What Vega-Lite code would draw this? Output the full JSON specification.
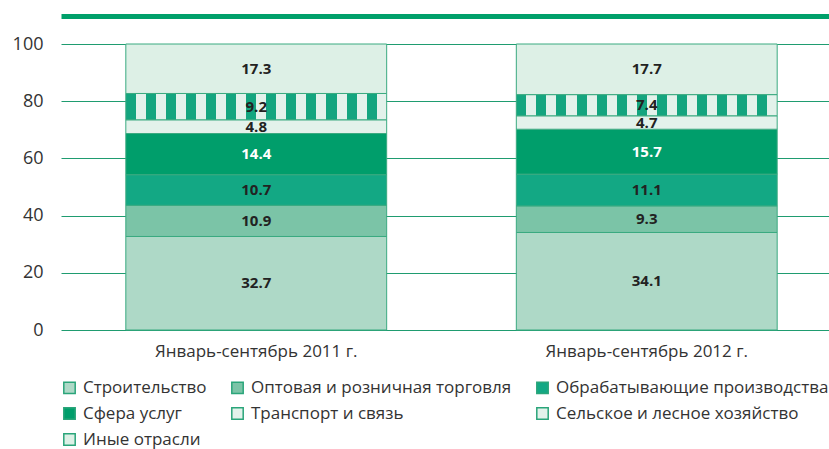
{
  "$schema": "https://vega.github.io/schema/vega-lite/v6.json",
  "width": 781,
  "height": 286,
  "autosize": {"type": "pad"},
  "padding": {"left": 12, "top": 16, "right": 0, "bottom": 0},
  "background": "white",
  "config": {
    "font": "Open Sans",
    "view": {"stroke": null},
    "axisY": {
      "grid": true, "gridColor": "#1f9c70", "gridWidth": 1, "domain": false, "ticks": false,
      "labelPadding": 18, "labelFontSize": 18, "labelColor": "#333333", "title": null
    },
    "legend": {
      "orient": "bottom", "columns": 3, "symbolType": "square", "symbolSize": 130,
      "symbolStrokeColor": "#2aa57a", "symbolStrokeWidth": 1.5, "labelFontSize": 17,
      "labelColor": "#333333", "rowPadding": 7, "columnPadding": 21, "offset": 20,
      "labelOffset": 5, "title": null, "labelLimit": 400
    }
  },
  "data": {
    "values": [
      {"period": "Январь-сентябрь 2011 г.", "sector": "Строительство", "value": 32.7, "order": 1},
      {"period": "Январь-сентябрь 2011 г.", "sector": "Оптовая и розничная торговля", "value": 10.9, "order": 2},
      {"period": "Январь-сентябрь 2011 г.", "sector": "Обрабатывающие производства", "value": 10.7, "order": 3},
      {"period": "Январь-сентябрь 2011 г.", "sector": "Сфера услуг", "value": 14.4, "order": 4},
      {"period": "Январь-сентябрь 2011 г.", "sector": "Транспорт и связь", "value": 4.8, "order": 5},
      {"period": "Январь-сентябрь 2011 г.", "sector": "Сельское и лесное хозяйство", "value": 9.2, "order": 6},
      {"period": "Январь-сентябрь 2011 г.", "sector": "Иные отрасли", "value": 17.3, "order": 7},
      {"period": "Январь-сентябрь 2012 г.", "sector": "Строительство", "value": 34.1, "order": 1},
      {"period": "Январь-сентябрь 2012 г.", "sector": "Оптовая и розничная торговля", "value": 9.3, "order": 2},
      {"period": "Январь-сентябрь 2012 г.", "sector": "Обрабатывающие производства", "value": 11.1, "order": 3},
      {"period": "Январь-сентябрь 2012 г.", "sector": "Сфера услуг", "value": 15.7, "order": 4},
      {"period": "Январь-сентябрь 2012 г.", "sector": "Транспорт и связь", "value": 4.7, "order": 5},
      {"period": "Январь-сентябрь 2012 г.", "sector": "Сельское и лесное хозяйство", "value": 7.4, "order": 6},
      {"period": "Январь-сентябрь 2012 г.", "sector": "Иные отрасли", "value": 17.7, "order": 7}
    ]
  },
  "transform": [
    {"stack": "value", "groupby": ["period"], "sort": [{"field": "order", "order": "ascending"}], "as": ["y0", "y1"]},
    {"calculate": "(datum.y0 + datum.y1) / 2", "as": "ymid"}
  ],
  "layer": [
    {
      "mark": {"type": "bar", "stroke": "#3aaa80", "strokeWidth": 1},
      "encoding": {
        "x": {
          "field": "period", "type": "nominal",
          "scale": {"paddingInner": 0.332, "paddingOuter": 0.166},
          "axis": {"orient": "bottom", "labelAngle": 0, "domain": false, "ticks": false, "labelPadding": 13,
                   "labelFontSize": 17, "labelFontWeight": "normal", "labelLimit": 400,
                   "labelColor": "#333333", "title": null}
        },
        "y": {"field": "y0", "type": "quantitative", "scale": {"domain": [0, 100]},
              "axis": {"values": [0, 20, 40, 60, 80, 100]}},
        "y2": {"field": "y1"},
        "fill": {
          "condition": {
            "test": "datum.sector === 'Сельское и лесное хозяйство'",
            "value": {
              "gradient": "linear", "x1": 0, "y1": 0, "x2": 1, "y2": 0,
              "stops": [
                {"offset": 0, "color": "#14a57f"}, {"offset": 0.0385, "color": "#14a57f"},
                {"offset": 0.0385, "color": "#e3f2eb"}, {"offset": 0.0769, "color": "#e3f2eb"},
                {"offset": 0.0769, "color": "#14a57f"}, {"offset": 0.1154, "color": "#14a57f"},
                {"offset": 0.1154, "color": "#e3f2eb"}, {"offset": 0.1538, "color": "#e3f2eb"},
                {"offset": 0.1538, "color": "#14a57f"}, {"offset": 0.1923, "color": "#14a57f"},
                {"offset": 0.1923, "color": "#e3f2eb"}, {"offset": 0.2308, "color": "#e3f2eb"},
                {"offset": 0.2308, "color": "#14a57f"}, {"offset": 0.2692, "color": "#14a57f"},
                {"offset": 0.2692, "color": "#e3f2eb"}, {"offset": 0.3077, "color": "#e3f2eb"},
                {"offset": 0.3077, "color": "#14a57f"}, {"offset": 0.3462, "color": "#14a57f"},
                {"offset": 0.3462, "color": "#e3f2eb"}, {"offset": 0.3846, "color": "#e3f2eb"},
                {"offset": 0.3846, "color": "#14a57f"}, {"offset": 0.4231, "color": "#14a57f"},
                {"offset": 0.4231, "color": "#e3f2eb"}, {"offset": 0.4615, "color": "#e3f2eb"},
                {"offset": 0.4615, "color": "#14a57f"}, {"offset": 0.5, "color": "#14a57f"},
                {"offset": 0.5, "color": "#e3f2eb"}, {"offset": 0.5385, "color": "#e3f2eb"},
                {"offset": 0.5385, "color": "#14a57f"}, {"offset": 0.5769, "color": "#14a57f"},
                {"offset": 0.5769, "color": "#e3f2eb"}, {"offset": 0.6154, "color": "#e3f2eb"},
                {"offset": 0.6154, "color": "#14a57f"}, {"offset": 0.6538, "color": "#14a57f"},
                {"offset": 0.6538, "color": "#e3f2eb"}, {"offset": 0.6923, "color": "#e3f2eb"},
                {"offset": 0.6923, "color": "#14a57f"}, {"offset": 0.7308, "color": "#14a57f"},
                {"offset": 0.7308, "color": "#e3f2eb"}, {"offset": 0.7692, "color": "#e3f2eb"},
                {"offset": 0.7692, "color": "#14a57f"}, {"offset": 0.8077, "color": "#14a57f"},
                {"offset": 0.8077, "color": "#e3f2eb"}, {"offset": 0.8462, "color": "#e3f2eb"},
                {"offset": 0.8462, "color": "#14a57f"}, {"offset": 0.8846, "color": "#14a57f"},
                {"offset": 0.8846, "color": "#e3f2eb"}, {"offset": 0.9231, "color": "#e3f2eb"},
                {"offset": 0.9231, "color": "#14a57f"}, {"offset": 0.9615, "color": "#14a57f"},
                {"offset": 0.9615, "color": "#e3f2eb"}, {"offset": 1, "color": "#e3f2eb"}
              ]
            }
          },
          "field": "sector", "type": "nominal",
          "scale": {
            "domain": ["Строительство", "Оптовая и розничная торговля", "Обрабатывающие производства", "Сфера услуг", "Транспорт и связь", "Сельское и лесное хозяйство", "Иные отрасли"],
            "range": ["#aed9c7", "#7bc4a7", "#13a884", "#009e6b", "#e3f2eb", "#e3f2eb", "#ddf0e6"]
          }
        }
      }
    },
    {
      "mark": {"type": "text", "fontWeight": "bold", "fontSize": 15, "baseline": "middle", "align": "center"},
      "encoding": {
        "x": {
          "field": "period", "type": "nominal",
          "axis": {"orient": "top", "labels": false, "ticks": false, "title": null, "domain": true,
                   "domainColor": "#00a06a", "domainWidth": 5, "offset": 28}
        },
        "y": {"field": "ymid", "type": "quantitative"},
        "text": {"field": "value", "type": "quantitative", "format": ".1f"},
        "color": {"condition": {"test": "datum.sector === 'Сфера услуг'", "value": "#ffffff"}, "value": "#222222"}
      }
    }
  ],
  "resolve": {"axis": {"x": "independent"}}
}
